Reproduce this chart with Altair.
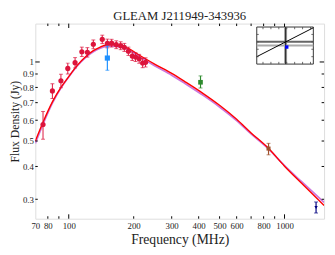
import altair as alt
import pandas as pd

# ---------------- data ----------------
gleam_freq = [76, 84, 92, 99, 107, 115, 122, 130, 143, 151, 158, 166, 174, 181, 189, 197, 204, 212, 220, 227]
gleam_flux = [0.578, 0.776, 0.848, 0.945, 0.994, 1.094, 1.089, 1.168, 1.22, 1.177, 1.18, 1.164,
              1.154, 1.137, 1.099, 1.053, 1.044, 1.029, 0.991, 0.997]
gleam_err = [0.07, 0.05, 0.05, 0.045, 0.045, 0.045, 0.045, 0.045, 0.045, 0.045, 0.04, 0.04,
             0.04, 0.04, 0.04, 0.04, 0.04, 0.04, 0.04, 0.04]

other_name = ["TGSS", "MRC", "SUMSS", "NVSS"]
other_freq = [151, 408, 843, 1400]
other_flux = [1.035, 0.837, 0.468, 0.279]
other_lo = [0.93, 0.796, 0.443, 0.266]
other_hi = [1.15, 0.885, 0.49, 0.293]
other_color = ["#1e90ff", "#2e8b2e", "#a0522d", "#000080"]
other_shape = ["square", "square", "square", "triangle-down"]
other_size = [28, 12, 12, 16]

fit_freq = [70, 76, 84, 92, 100, 110, 120, 130, 140, 150, 160, 175, 190, 210, 250, 300, 350,
            420, 500, 600, 700, 840, 1000, 1200, 1525]
red_flux = [0.50, 0.59, 0.705, 0.80, 0.88, 0.975, 1.05, 1.105, 1.14, 1.16, 1.163, 1.152, 1.125,
            1.068, 0.982, 0.905, 0.836, 0.758, 0.684, 0.605, 0.537, 0.470, 0.401, 0.345, 0.284]
violet_flux = [0.49, 0.58, 0.697, 0.795, 0.877, 0.97, 1.042, 1.094, 1.128, 1.146, 1.15, 1.14, 1.112,
               1.055, 0.968, 0.891, 0.823, 0.746, 0.674, 0.598, 0.532, 0.468, 0.403, 0.35, 0.292]

x_labels = [70, 80, 100, 200, 300, 400, 500, 600, 800, 1000]
y_labels = [0.3, 0.4, 0.5, 0.6, 0.7, 0.8, 0.9, 1]
x_major = [100, 1000]
x_minor = [80, 90, 200, 300, 400, 500, 600, 700, 800, 900]
y_major = [1]
y_minor = [0.3, 0.4, 0.5, 0.6, 0.7, 0.8, 0.9]

# inset (position panel) in its own unit coordinates
inset_diag_x = [0, 1]
inset_diag_y = [0.2, 0.98]
inset_vline = 0.51
inset_hline_dark = 0.6
inset_hline_light = 0.5
inset_src = (0.53, 0.46)
inset_xt = [0.11, 0.25, 0.39, 0.53, 0.67, 0.81, 0.95]
inset_yt = [0.2, 0.4, 0.6, 0.8]

W, H = 296, 200
SERIF = "Liberation Serif"

# ---------------- tables ----------------
gleam = pd.DataFrame({"freq": gleam_freq, "flux": gleam_flux, "err": gleam_err})
gleam["lo"] = gleam["flux"] - gleam["err"]
gleam["hi"] = gleam["flux"] + gleam["err"]
other = pd.DataFrame({"name": other_name, "freq": other_freq, "flux": other_flux,
                      "lo": other_lo, "hi": other_hi})
fits = pd.DataFrame({"freq": fit_freq, "red": red_flux, "violet": violet_flux})

xscale = alt.Scale(type="log", domain=[70, 1525], nice=False)
yscale = alt.Scale(type="log", domain=[0.253, 1.40], nice=False)
xaxis = alt.Axis(values=x_labels, format="d", ticks=False, domain=False, grid=False, labelFont=SERIF,
                 labelFontSize=9, labelColor="#222", labelPadding=3, title="Frequency (MHz)",
                 titleFont=SERIF, titleFontSize=14, titleFontWeight="normal", titleColor="#222",
                 titlePadding=2, labelFlush=False)
yaxis = alt.Axis(values=y_labels, format="~g", ticks=False, domain=False, grid=False,
                 labelFont=SERIF, labelFontSize=9, labelColor="#222", labelPadding=2,
                 title="Flux Density (Jy)", titleFont=SERIF, titleFontSize=12,
                 titleFontWeight="normal", titleColor="#222", titlePadding=1)


def X(field="freq"):
    return alt.X(f"{field}:Q", scale=xscale, axis=xaxis)


def Y(field="flux"):
    return alt.Y(f"{field}:Q", scale=yscale, axis=yaxis)


violet = alt.Chart(fits).mark_line(color="#cc77dd", strokeWidth=1.8, clip=True,
                                   interpolate="monotone").encode(x=X(), y=Y("violet"))
red = alt.Chart(fits).mark_line(color="#ff0000", strokeWidth=1.4, clip=True,
                                interpolate="monotone").encode(x=X(), y=Y("red"))

g_bar = alt.Chart(gleam).mark_rule(color="#dc143c", strokeWidth=1).encode(
    x=X(), y=Y("lo"), y2="hi")
g_cap_lo = alt.Chart(gleam).mark_tick(color="#dc143c", orient="horizontal", size=4,
                                      thickness=1).encode(x=X(), y=Y("lo"))
g_cap_hi = alt.Chart(gleam).mark_tick(color="#dc143c", orient="horizontal", size=4,
                                      thickness=1).encode(x=X(), y=Y("hi"))
g_pts = alt.Chart(gleam).mark_point(filled=True, shape="circle", size=28, color="#dc143c",
                                    opacity=1).encode(x=X(), y=Y())

cscale = alt.Scale(domain=other_name, range=other_color)
sscale = alt.Scale(domain=other_name, range=other_shape)
zscale = alt.Scale(domain=other_name, range=other_size)
o_bar = alt.Chart(other).mark_rule(strokeWidth=1.2).encode(
    x=X(), y=Y("lo"), y2="hi", color=alt.Color("name:N", scale=cscale, legend=None))
o_cap_lo = alt.Chart(other).mark_tick(orient="horizontal", size=4, thickness=1).encode(
    x=X(), y=Y("lo"), color=alt.Color("name:N", scale=cscale, legend=None))
o_cap_hi = alt.Chart(other).mark_tick(orient="horizontal", size=4, thickness=1).encode(
    x=X(), y=Y("hi"), color=alt.Color("name:N", scale=cscale, legend=None))
o_pts = alt.Chart(other).mark_point(filled=True, opacity=1).encode(
    x=X(), y=Y(),
    color=alt.Color("name:N", scale=cscale, legend=None),
    shape=alt.Shape("name:N", scale=sscale, legend=None),
    size=alt.Size("name:N", scale=zscale, legend=None))

# inward ticks on the frame
def xticks(vals, L):
    d = pd.DataFrame({"freq": vals})
    b = alt.Chart(d).mark_rule(color="black", strokeWidth=1).encode(
        x=X(), y=alt.value(H), y2=alt.value(H - L))
    t = alt.Chart(d).mark_rule(color="black", strokeWidth=1).encode(
        x=X(), y=alt.value(0), y2=alt.value(L))
    return [b, t]


def yticks(vals, L):
    d = pd.DataFrame({"flux": vals})
    l = alt.Chart(d).mark_rule(color="black", strokeWidth=1).encode(
        y=Y(), x=alt.value(0), x2=alt.value(L))
    r = alt.Chart(d).mark_rule(color="black", strokeWidth=1).encode(
        y=Y(), x=alt.value(W), x2=alt.value(W - L))
    return [l, r]


tick_layers = xticks(x_major, 4.5) + xticks(x_minor, 2.5) + yticks(y_major, 4.5) + yticks(y_minor, 2.5)

main = alt.layer(violet, red, g_bar, g_cap_lo, g_cap_hi, g_pts, o_bar, o_cap_lo, o_cap_hi, o_pts,
                 *tick_layers)

# ---------------- inset ----------------
ixs = alt.Scale(domain=[0, 1], range=[227, 285], nice=False, zero=False)
iys = alt.Scale(domain=[0, 1], range=[41.5, 3.5], nice=False, zero=False)


def IX(f):
    return alt.X(f"{f}:Q", scale=ixs, axis=None)


def IY(f):
    return alt.Y(f"{f}:Q", scale=iys, axis=None)


box = alt.Chart(pd.DataFrame({"x0": [0], "x1": [1], "y0": [0], "y1": [1]})).mark_rect(
    fill="white", stroke="#333", strokeWidth=1).encode(x=IX("x0"), x2="x1", y=IY("y0"), y2="y1")
vl_df = pd.DataFrame({"x": [inset_vline], "y0": [0], "y1": [1]})
vband = alt.Chart(vl_df).mark_rule(color="#999", strokeWidth=3).encode(x=IX("x"), y=IY("y0"), y2="y1")
vline = alt.Chart(vl_df).mark_rule(color="#222", strokeWidth=1).encode(x=IX("x"), y=IY("y0"), y2="y1")
hl_df = pd.DataFrame({"y": [inset_hline_dark, inset_hline_light], "x0": [0, 0], "x1": [1, 1],
                      "k": ["dark", "light"]})
hlines = alt.Chart(hl_df).mark_rule(strokeWidth=2).encode(
    y=IY("y"), x=IX("x0"), x2="x1",
    color=alt.Color("k:N", scale=alt.Scale(domain=["dark", "light"], range=["#666", "#aaa"]),
                    legend=None))
diag = alt.Chart(pd.DataFrame({"x": inset_diag_x, "y": inset_diag_y})).mark_line(
    color="black", strokeWidth=1).encode(x=IX("x"), y=IY("y"))
src = alt.Chart(pd.DataFrame({"x": [inset_src[0]], "y": [inset_src[1]]})).mark_point(
    shape="square", filled=True, color="#0000ff", size=12, opacity=1).encode(x=IX("x"), y=IY("y"))
ixt = pd.DataFrame({"x": inset_xt + inset_xt, "y0": [0] * 7 + [1] * 7, "y1": [0.06] * 7 + [0.94] * 7})
iyt = pd.DataFrame({"y": inset_yt + inset_yt, "x0": [0] * 4 + [1] * 4, "x1": [0.035] * 4 + [0.965] * 4})
itx = alt.Chart(ixt).mark_rule(color="#444", strokeWidth=0.8).encode(x=IX("x"), y=IY("y0"), y2="y1")
ity = alt.Chart(iyt).mark_rule(color="#444", strokeWidth=0.8).encode(y=IY("y"), x=IX("x0"), x2="x1")

inset = alt.layer(box, vband, hlines, vline, diag, src, itx, ity)

chart = alt.layer(main, inset).resolve_scale(
    x="independent", y="independent", color="independent"
).properties(
    width=W, height=H,
    title=alt.TitleParams("GLEAM J211949-343936", font=SERIF, fontSize=13, fontWeight="normal",
                          color="#222", anchor="middle", frame="group", baseline="top",
                          offset=0),
    padding={"left": 28, "top": 13, "right": 3, "bottom": 26},
    autosize=alt.AutoSizeParams(type="none"),
).configure_view(stroke="black", strokeWidth=1.2).configure(background="white")

chart.save("out.html", embed_options={"renderer": "svg", "actions": False})
